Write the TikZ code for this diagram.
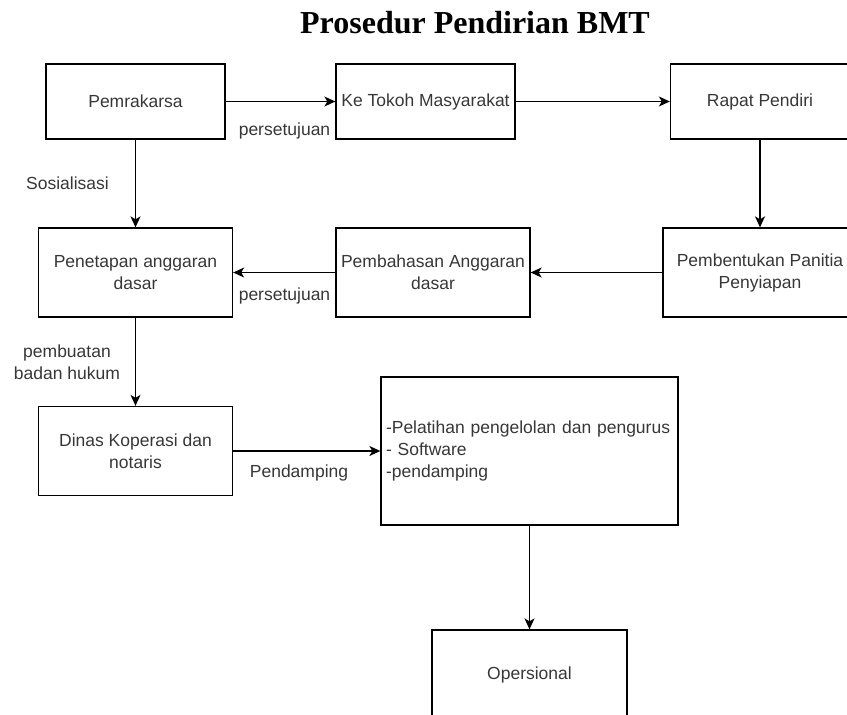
\documentclass[tikz,border=0pt]{standalone}
\usepackage{fontspec}
\setmainfont{Liberation Sans}
\newfontfamily\titlefont{Liberation Serif}
\usetikzlibrary{arrows.meta}
\definecolor{txtgray}{RGB}{55,55,55}
\tikzstyle{box}=[draw, line width=1.3pt, inner sep=0pt, minimum width=179pt, minimum height=75pt, align=center, text=txtgray, font=\fontsize{17.5}{22}\selectfont]
\tikzstyle{widebox}=[box, minimum width=194pt, minimum height=89pt]
\tikzstyle{lbl}=[inner sep=0pt, align=center, text=txtgray, font=\fontsize{17.5}{22}\selectfont]
\tikzstyle{edge} = [draw, line width=1.4pt, -{Stealth[length=11pt,width=10pt,inset=3pt]}]

\begin{document}
\begin{tikzpicture}[x=1pt,y=-1pt]
            \useasboundingbox (0,0) rectangle (847,715);

            \node[anchor=base, inner sep=0pt, font=\titlefont\bfseries\fontsize{32}{36}\selectfont] (title) at (475,33) {Prosedur Pendirian BMT};

            \node[box] (pem) at (135.5,101.5) {Pemrakarsa};
            \node[box] (tokoh) at (425.5,101.5) {Ke Tokoh Masyarakat};
            \node[box] (rapat) at (760,101.5) {Rapat Pendiri};
            \node[widebox] (tetap) at (135.5,272.5) {Penetapan anggaran\\dasar};
            \node[widebox] (bahas) at (433,272.5) {Pembahasan Anggaran\\dasar};
            \node[widebox] (bentuk) at (760,272.5) {Pembentukan Panitia\\Penyiapan};
            \node[widebox] (dinas) at (135.5,451) {Dinas Koperasi dan\\notaris};
            \node[box, minimum width=297pt, minimum height=148pt, text width=287pt, align=left] (latih) at (529.5,451) {-Pelatihan pengelolan dan pengurus\\- Software\\-pendamping};
            \node[widebox, minimum width=195pt] (oper) at (529.5,674.5) {Opersional};

            \node[lbl] (setuju1) at (284.5,131) {persetujuan};
            \node[lbl] (sosial) at (67.5,183) {Sosialisasi};
            \node[lbl] (setuju2) at (284.5,296) {persetujuan};
            \node[lbl] (hukum) at (67,362.5) {pembuatan\\badan hukum};
            \node[lbl] (damping) at (299,473) {Pendamping};

            \path[edge] (pem) -- (tokoh);
            \path[edge] (tokoh) -- (rapat);
            \path[edge] (rapat) -- (bentuk);
            \path[edge] (bentuk) -- (bahas);
            \path[edge] (bahas) -- (tetap);
            \path[edge] (pem) -- (tetap);
            \path[edge] (tetap) -- (dinas);
            \path[edge] (dinas) -- (latih);
            \path[edge] (latih) -- (oper);
\end{tikzpicture}
\end{document}
